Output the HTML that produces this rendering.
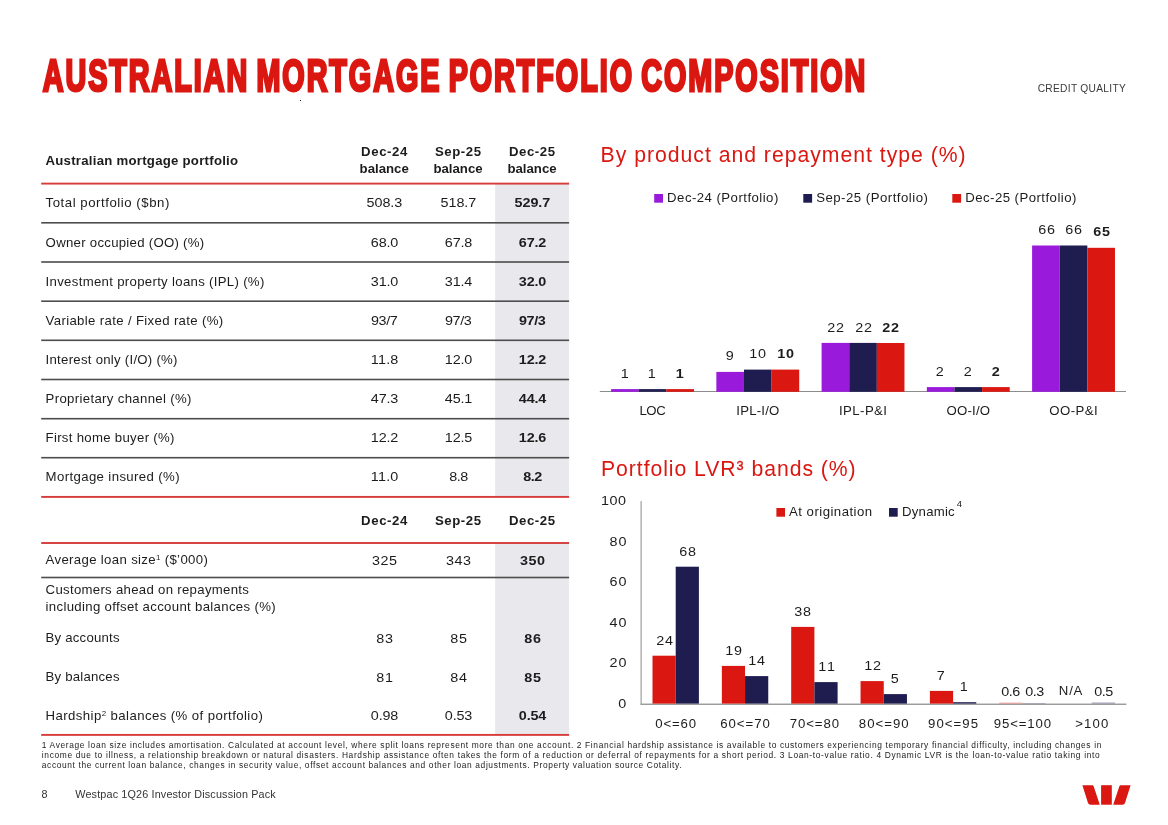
<!DOCTYPE html>
<html lang="en"><head><meta charset="utf-8"><title>Australian mortgage portfolio composition</title>
<style>
html,body{margin:0;padding:0;background:#fff;}
body{width:1168px;height:825px;position:relative;overflow:hidden;font-family:"Liberation Sans",sans-serif;color:#1c1c1c;}
.abs{position:absolute;}
.t{position:absolute;white-space:nowrap;}
.t sup{font-size:60%;line-height:0;vertical-align:baseline;position:relative;top:-0.51em;}
svg text{font-family:"Liberation Sans",sans-serif;}
</style></head><body>

<svg class="abs" style="left:0;top:0" width="1168" height="825" viewBox="0 0 1168 825">
<rect x="495.2" y="183.6" width="73.9" height="313.3" fill="#E8E8ED"/>
<rect x="495.2" y="543.0" width="73.9" height="192" fill="#E8E8ED"/>
<rect x="41.2" y="182.65" width="527.9" height="1.9" fill="#D63C39"/>
<rect x="41.2" y="222.00" width="527.9" height="1.6" fill="#4d4d4d"/>
<rect x="41.2" y="261.20" width="527.9" height="1.6" fill="#4d4d4d"/>
<rect x="41.2" y="300.40" width="527.9" height="1.6" fill="#4d4d4d"/>
<rect x="41.2" y="339.50" width="527.9" height="1.6" fill="#4d4d4d"/>
<rect x="41.2" y="378.70" width="527.9" height="1.6" fill="#4d4d4d"/>
<rect x="41.2" y="417.90" width="527.9" height="1.6" fill="#4d4d4d"/>
<rect x="41.2" y="456.90" width="527.9" height="1.6" fill="#4d4d4d"/>
<rect x="41.2" y="495.95" width="527.9" height="1.9" fill="#D63C39"/>
<rect x="41.2" y="542.05" width="527.9" height="1.9" fill="#D63C39"/>
<rect x="41.2" y="576.70" width="527.9" height="1.6" fill="#4d4d4d"/>
<rect x="41.2" y="733.95" width="527.9" height="1.9" fill="#D63C39"/>
<rect x="654.20" y="194.00" width="8.80" height="8.70" fill="#991ADB"/>
<rect x="803.30" y="194.00" width="8.80" height="8.70" fill="#1F1C4F"/>
<rect x="952.30" y="194.00" width="8.80" height="8.70" fill="#DA1710"/>
<rect x="599.80" y="391.00" width="526.20" height="1.00" fill="#8c8c8c"/>
<rect x="611.10" y="389.10" width="27.62" height="2.70" fill="#991ADB"/>
<rect x="638.72" y="389.10" width="27.62" height="2.70" fill="#1F1C4F"/>
<rect x="666.34" y="389.10" width="27.62" height="2.70" fill="#DA1710"/>
<rect x="716.35" y="371.90" width="27.62" height="19.90" fill="#991ADB"/>
<rect x="743.97" y="369.60" width="27.62" height="22.20" fill="#1F1C4F"/>
<rect x="771.59" y="369.60" width="27.62" height="22.20" fill="#DA1710"/>
<rect x="821.60" y="342.90" width="27.62" height="48.90" fill="#991ADB"/>
<rect x="849.22" y="342.90" width="27.62" height="48.90" fill="#1F1C4F"/>
<rect x="876.84" y="343.00" width="27.62" height="48.80" fill="#DA1710"/>
<rect x="926.85" y="387.10" width="27.62" height="4.70" fill="#991ADB"/>
<rect x="954.47" y="387.10" width="27.62" height="4.70" fill="#1F1C4F"/>
<rect x="982.09" y="387.10" width="27.62" height="4.70" fill="#DA1710"/>
<rect x="1032.10" y="245.50" width="27.62" height="146.30" fill="#991ADB"/>
<rect x="1059.72" y="245.50" width="27.62" height="146.30" fill="#1F1C4F"/>
<rect x="1087.34" y="247.80" width="27.62" height="144.00" fill="#DA1710"/>
<rect x="640.60" y="501.00" width="1.00" height="203.60" fill="#8c8c8c"/>
<rect x="640.60" y="703.60" width="485.80" height="1.25" fill="#8c8c8c"/>
<rect x="776.40" y="508.00" width="8.60" height="8.70" fill="#DA1710"/>
<rect x="889.00" y="508.00" width="8.70" height="8.70" fill="#1F1C4F"/>
<rect x="652.50" y="655.70" width="23.20" height="47.90" fill="#DA1710"/>
<rect x="675.70" y="566.70" width="23.20" height="136.90" fill="#1F1C4F"/>
<rect x="721.85" y="665.90" width="23.20" height="37.70" fill="#DA1710"/>
<rect x="745.05" y="676.10" width="23.20" height="27.50" fill="#1F1C4F"/>
<rect x="791.20" y="626.90" width="23.20" height="76.70" fill="#DA1710"/>
<rect x="814.40" y="682.10" width="23.20" height="21.50" fill="#1F1C4F"/>
<rect x="860.55" y="681.10" width="23.20" height="22.50" fill="#DA1710"/>
<rect x="883.75" y="694.10" width="23.20" height="9.50" fill="#1F1C4F"/>
<rect x="929.90" y="690.90" width="23.20" height="12.70" fill="#DA1710"/>
<rect x="953.10" y="702.20" width="23.20" height="1.40" fill="#1F1C4F"/>
<rect x="999.25" y="702.70" width="23.20" height="0.90" fill="#E58A86"/>
<rect x="1022.45" y="703.00" width="23.20" height="0.60" fill="#8f8da6"/>
<rect x="1091.80" y="702.60" width="23.20" height="1.00" fill="#8f8da6"/>
<rect x="300" y="100" width="1" height="1" fill="#111"/>
<text transform="translate(42.7,91.3) scale(0.6603,1)" font-size="43.5" font-weight="bold" letter-spacing="3" word-spacing="-4" style="fill:#DA1710;stroke:#DA1710;stroke-width:3;stroke-linejoin:miter;stroke-miterlimit:3">AUSTRALIAN MORTGAGE PORTFOLIO COMPOSITION</text>
<path d="M1082.4 785.2 L1092.3 785.2 Q1093.3 785.2 1093.7 786.4 L1099.8 804.7 L1090.6 804.7 Q1088.6 804.7 1088 803 Z" fill="#DA1710"/>
<rect x="1101.1" y="785.2" width="10.7" height="19.5" fill="#DA1710"/>
<path d="M1130.6 785.2 L1120.7 785.2 Q1119.7 785.2 1119.3 786.4 L1113.2 804.7 L1122.4 804.7 Q1124.4 804.7 1125 803 Z" fill="#DA1710"/>
</svg>
<div class="t" style="left:1037.70px;top:80px;line-height:17px;height:17px;font-size:10.2px;letter-spacing:0.303px;color:#3a3a3a;">CREDIT QUALITY</div>
<div class="t" style="left:45.50px;top:150px;line-height:21px;height:21px;font-size:13.2px;letter-spacing:0.258px;font-weight:bold;">Australian mortgage portfolio</div>
<div class="t" style="left:361.10px;top:141px;line-height:21px;height:21px;font-size:13.2px;letter-spacing:0.587px;font-weight:bold;">Dec-24</div>
<div class="t" style="left:359.60px;top:158px;line-height:21px;height:21px;font-size:13.2px;letter-spacing:0.013px;font-weight:bold;">balance</div>
<div class="t" style="left:434.90px;top:141px;line-height:21px;height:21px;font-size:13.2px;letter-spacing:0.590px;font-weight:bold;">Sep-25</div>
<div class="t" style="left:433.40px;top:158px;line-height:21px;height:21px;font-size:13.2px;letter-spacing:0.013px;font-weight:bold;">balance</div>
<div class="t" style="left:508.90px;top:141px;line-height:21px;height:21px;font-size:13.2px;letter-spacing:0.587px;font-weight:bold;">Dec-25</div>
<div class="t" style="left:507.40px;top:158px;line-height:21px;height:21px;font-size:13.2px;letter-spacing:0.013px;font-weight:bold;">balance</div>
<div class="t" style="left:45.60px;top:192px;line-height:21px;height:21px;font-size:13.2px;letter-spacing:0.540px;">Total portfolio ($bn)</div>
<div class="t" style="left:368.18px;top:192px;line-height:21px;height:21px;font-size:13.2px;letter-spacing:-0.043px;width:32.84px;transform:scaleX(1.09);transform-origin:50% 50%;">508.3</div>
<div class="t" style="left:441.98px;top:192px;line-height:21px;height:21px;font-size:13.2px;letter-spacing:-0.043px;width:32.84px;transform:scaleX(1.09);transform-origin:50% 50%;">518.7</div>
<div class="t" style="left:515.98px;top:192px;line-height:21px;height:21px;font-size:13.2px;letter-spacing:-0.043px;font-weight:bold;width:32.84px;transform:scaleX(1.09);transform-origin:50% 50%;">529.7</div>
<div class="t" style="left:45.60px;top:232px;line-height:21px;height:21px;font-size:13.2px;letter-spacing:0.280px;">Owner occupied (OO) (%)</div>
<div class="t" style="left:372.01px;top:232px;line-height:21px;height:21px;font-size:13.2px;letter-spacing:-0.163px;width:25.18px;transform:scaleX(1.09);transform-origin:50% 50%;">68.0</div>
<div class="t" style="left:445.81px;top:232px;line-height:21px;height:21px;font-size:13.2px;letter-spacing:-0.163px;width:25.18px;transform:scaleX(1.09);transform-origin:50% 50%;">67.8</div>
<div class="t" style="left:519.81px;top:232px;line-height:21px;height:21px;font-size:13.2px;letter-spacing:-0.163px;font-weight:bold;width:25.18px;transform:scaleX(1.09);transform-origin:50% 50%;">67.2</div>
<div class="t" style="left:45.60px;top:271px;line-height:21px;height:21px;font-size:13.2px;letter-spacing:0.310px;">Investment property loans (IPL) (%)</div>
<div class="t" style="left:372.01px;top:271px;line-height:21px;height:21px;font-size:13.2px;letter-spacing:-0.163px;width:25.18px;transform:scaleX(1.09);transform-origin:50% 50%;">31.0</div>
<div class="t" style="left:445.81px;top:271px;line-height:21px;height:21px;font-size:13.2px;letter-spacing:-0.163px;width:25.18px;transform:scaleX(1.09);transform-origin:50% 50%;">31.4</div>
<div class="t" style="left:519.81px;top:271px;line-height:21px;height:21px;font-size:13.2px;letter-spacing:-0.163px;font-weight:bold;width:25.18px;transform:scaleX(1.09);transform-origin:50% 50%;">32.0</div>
<div class="t" style="left:45.60px;top:310px;line-height:21px;height:21px;font-size:13.2px;letter-spacing:0.345px;">Variable rate / Fixed rate (%)</div>
<div class="t" style="left:372.28px;top:310px;line-height:21px;height:21px;font-size:13.2px;letter-spacing:-0.346px;width:24.63px;transform:scaleX(1.09);transform-origin:50% 50%;">93/7</div>
<div class="t" style="left:446.08px;top:310px;line-height:21px;height:21px;font-size:13.2px;letter-spacing:-0.346px;width:24.63px;transform:scaleX(1.09);transform-origin:50% 50%;">97/3</div>
<div class="t" style="left:520.08px;top:310px;line-height:21px;height:21px;font-size:13.2px;letter-spacing:-0.346px;font-weight:bold;width:24.63px;transform:scaleX(1.09);transform-origin:50% 50%;">97/3</div>
<div class="t" style="left:45.60px;top:349px;line-height:21px;height:21px;font-size:13.2px;letter-spacing:0.266px;">Interest only (I/O) (%)</div>
<div class="t" style="left:372.01px;top:349px;line-height:21px;height:21px;font-size:13.2px;letter-spacing:0.165px;width:25.18px;transform:scaleX(1.09);transform-origin:50% 50%;">11.8</div>
<div class="t" style="left:445.81px;top:349px;line-height:21px;height:21px;font-size:13.2px;letter-spacing:-0.163px;width:25.18px;transform:scaleX(1.09);transform-origin:50% 50%;">12.0</div>
<div class="t" style="left:519.81px;top:349px;line-height:21px;height:21px;font-size:13.2px;letter-spacing:-0.163px;font-weight:bold;width:25.18px;transform:scaleX(1.09);transform-origin:50% 50%;">12.2</div>
<div class="t" style="left:45.60px;top:388px;line-height:21px;height:21px;font-size:13.2px;letter-spacing:0.330px;">Proprietary channel (%)</div>
<div class="t" style="left:372.01px;top:388px;line-height:21px;height:21px;font-size:13.2px;letter-spacing:-0.163px;width:25.18px;transform:scaleX(1.09);transform-origin:50% 50%;">47.3</div>
<div class="t" style="left:445.81px;top:388px;line-height:21px;height:21px;font-size:13.2px;letter-spacing:-0.163px;width:25.18px;transform:scaleX(1.09);transform-origin:50% 50%;">45.1</div>
<div class="t" style="left:519.81px;top:388px;line-height:21px;height:21px;font-size:13.2px;letter-spacing:-0.163px;font-weight:bold;width:25.18px;transform:scaleX(1.09);transform-origin:50% 50%;">44.4</div>
<div class="t" style="left:45.60px;top:427px;line-height:21px;height:21px;font-size:13.2px;letter-spacing:0.299px;">First home buyer (%)</div>
<div class="t" style="left:372.01px;top:427px;line-height:21px;height:21px;font-size:13.2px;letter-spacing:-0.163px;width:25.18px;transform:scaleX(1.09);transform-origin:50% 50%;">12.2</div>
<div class="t" style="left:445.81px;top:427px;line-height:21px;height:21px;font-size:13.2px;letter-spacing:-0.163px;width:25.18px;transform:scaleX(1.09);transform-origin:50% 50%;">12.5</div>
<div class="t" style="left:519.81px;top:427px;line-height:21px;height:21px;font-size:13.2px;letter-spacing:-0.163px;font-weight:bold;width:25.18px;transform:scaleX(1.09);transform-origin:50% 50%;">12.6</div>
<div class="t" style="left:45.60px;top:466px;line-height:21px;height:21px;font-size:13.2px;letter-spacing:0.378px;">Mortgage insured (%)</div>
<div class="t" style="left:372.01px;top:466px;line-height:21px;height:21px;font-size:13.2px;letter-spacing:0.165px;width:25.18px;transform:scaleX(1.09);transform-origin:50% 50%;">11.0</div>
<div class="t" style="left:449.64px;top:466px;line-height:21px;height:21px;font-size:13.2px;letter-spacing:-0.410px;width:17.52px;transform:scaleX(1.09);transform-origin:50% 50%;">8.8</div>
<div class="t" style="left:523.64px;top:466px;line-height:21px;height:21px;font-size:13.2px;letter-spacing:-0.410px;font-weight:bold;width:17.52px;transform:scaleX(1.09);transform-origin:50% 50%;">8.2</div>
<div class="t" style="left:361.10px;top:510px;line-height:21px;height:21px;font-size:13.2px;letter-spacing:0.587px;font-weight:bold;">Dec-24</div>
<div class="t" style="left:434.90px;top:510px;line-height:21px;height:21px;font-size:13.2px;letter-spacing:0.590px;font-weight:bold;">Sep-25</div>
<div class="t" style="left:508.90px;top:510px;line-height:21px;height:21px;font-size:13.2px;letter-spacing:0.587px;font-weight:bold;">Dec-25</div>
<div class="t" style="left:45.60px;top:549px;line-height:21px;height:21px;font-size:13.2px;letter-spacing:0.339px;">Average loan size<sup>1</sup> ($’000)</div>
<div class="t" style="left:373.06px;top:550px;line-height:21px;height:21px;font-size:13.2px;letter-spacing:0.529px;width:23.07px;transform:scaleX(1.09);transform-origin:50% 50%;">325</div>
<div class="t" style="left:446.86px;top:550px;line-height:21px;height:21px;font-size:13.2px;letter-spacing:0.529px;width:23.07px;transform:scaleX(1.09);transform-origin:50% 50%;">343</div>
<div class="t" style="left:520.86px;top:550px;line-height:21px;height:21px;font-size:13.2px;letter-spacing:0.529px;font-weight:bold;width:23.07px;transform:scaleX(1.09);transform-origin:50% 50%;">350</div>
<div class="t" style="left:45.60px;top:627px;line-height:21px;height:21px;font-size:13.2px;letter-spacing:0.206px;">By accounts</div>
<div class="t" style="left:376.89px;top:628px;line-height:21px;height:21px;font-size:13.2px;letter-spacing:0.741px;width:15.41px;transform:scaleX(1.09);transform-origin:50% 50%;">83</div>
<div class="t" style="left:450.69px;top:628px;line-height:21px;height:21px;font-size:13.2px;letter-spacing:0.741px;width:15.41px;transform:scaleX(1.09);transform-origin:50% 50%;">85</div>
<div class="t" style="left:524.69px;top:628px;line-height:21px;height:21px;font-size:13.2px;letter-spacing:0.741px;font-weight:bold;width:15.41px;transform:scaleX(1.09);transform-origin:50% 50%;">86</div>
<div class="t" style="left:45.60px;top:666px;line-height:21px;height:21px;font-size:13.2px;letter-spacing:0.206px;">By balances</div>
<div class="t" style="left:376.89px;top:667px;line-height:21px;height:21px;font-size:13.2px;letter-spacing:0.741px;width:15.41px;transform:scaleX(1.09);transform-origin:50% 50%;">81</div>
<div class="t" style="left:450.69px;top:667px;line-height:21px;height:21px;font-size:13.2px;letter-spacing:0.741px;width:15.41px;transform:scaleX(1.09);transform-origin:50% 50%;">84</div>
<div class="t" style="left:524.69px;top:667px;line-height:21px;height:21px;font-size:13.2px;letter-spacing:0.741px;font-weight:bold;width:15.41px;transform:scaleX(1.09);transform-origin:50% 50%;">85</div>
<div class="t" style="left:45.60px;top:705px;line-height:21px;height:21px;font-size:13.2px;letter-spacing:0.416px;">Hardship<sup>2</sup> balances (% of portfolio)</div>
<div class="t" style="left:372.01px;top:705px;line-height:21px;height:21px;font-size:13.2px;letter-spacing:-0.163px;width:25.18px;transform:scaleX(1.09);transform-origin:50% 50%;">0.98</div>
<div class="t" style="left:445.81px;top:705px;line-height:21px;height:21px;font-size:13.2px;letter-spacing:-0.163px;width:25.18px;transform:scaleX(1.09);transform-origin:50% 50%;">0.53</div>
<div class="t" style="left:519.81px;top:705px;line-height:21px;height:21px;font-size:13.2px;letter-spacing:-0.163px;font-weight:bold;width:25.18px;transform:scaleX(1.09);transform-origin:50% 50%;">0.54</div>
<div class="t" style="left:45.60px;top:579px;line-height:21px;height:21px;font-size:13.2px;letter-spacing:0.296px;">Customers ahead on repayments</div>
<div class="t" style="left:45.60px;top:596px;line-height:21px;height:21px;font-size:13.2px;letter-spacing:0.327px;">including offset account balances (%)</div>
<div class="t" style="left:41.80px;top:737px;line-height:16px;height:16px;font-size:8.4px;letter-spacing:0.642px;color:#222;">1 Average loan size includes amortisation. Calculated at account level, where split loans represent more than one account. 2 Financial hardship assistance is available to customers experiencing temporary financial difficulty, including changes in</div>
<div class="t" style="left:41.80px;top:747px;line-height:16px;height:16px;font-size:8.4px;letter-spacing:0.656px;color:#222;">income due to illness, a relationship breakdown or natural disasters. Hardship assistance often takes the form of a reduction or deferral of repayments for a short period. 3 Loan-to-value ratio. 4 Dynamic LVR is the loan-to-value ratio taking into</div>
<div class="t" style="left:41.80px;top:757px;line-height:16px;height:16px;font-size:8.4px;letter-spacing:0.626px;color:#222;">account the current loan balance, changes in security value, offset account balances and other loan adjustments. Property valuation source Cotality.</div>
<div class="t" style="left:41.60px;top:785px;line-height:18px;height:18px;font-size:10.8px;color:#333;">8</div>
<div class="t" style="left:75.30px;top:785px;line-height:18px;height:18px;font-size:10.8px;letter-spacing:0.154px;color:#333;">Westpac 1Q26 Investor Discussion Pack</div>
<div class="t" style="left:600.60px;top:140px;line-height:29px;height:29px;font-size:21.2px;letter-spacing:0.991px;color:#DA1710;">By product and repayment type (%)</div>
<div class="t" style="left:601.00px;top:454px;line-height:29px;height:29px;font-size:21.2px;letter-spacing:0.948px;color:#DA1710;">Portfolio LVR<sup style="-webkit-text-stroke:0.4px #DA1710">3</sup> bands (%)</div>
<div class="t" style="left:667.10px;top:187px;line-height:21px;height:21px;font-size:13.2px;letter-spacing:0.462px;">Dec-24 (Portfolio)</div>
<div class="t" style="left:816.20px;top:187px;line-height:21px;height:21px;font-size:13.2px;letter-spacing:0.491px;">Sep-25 (Portfolio)</div>
<div class="t" style="left:965.20px;top:187px;line-height:21px;height:21px;font-size:13.2px;letter-spacing:0.462px;">Dec-25 (Portfolio)</div>
<div class="t" style="left:620.64px;top:363px;line-height:21px;height:21px;font-size:13.2px;width:7.34px;transform:scaleX(1.09);transform-origin:50% 50%;">1</div>
<div class="t" style="left:648.26px;top:363px;line-height:21px;height:21px;font-size:13.2px;width:7.34px;transform:scaleX(1.09);transform-origin:50% 50%;">1</div>
<div class="t" style="left:675.88px;top:363px;line-height:21px;height:21px;font-size:13.2px;font-weight:bold;width:7.34px;transform:scaleX(1.09);transform-origin:50% 50%;">1</div>
<div class="t" style="left:639.38px;top:400px;line-height:21px;height:21px;font-size:13.2px;letter-spacing:-0.412px;">LOC</div>
<div class="t" style="left:725.89px;top:345px;line-height:21px;height:21px;font-size:13.2px;width:7.34px;transform:scaleX(1.09);transform-origin:50% 50%;">9</div>
<div class="t" style="left:750.47px;top:343px;line-height:21px;height:21px;font-size:13.2px;letter-spacing:0.741px;width:15.41px;transform:scaleX(1.09);transform-origin:50% 50%;">10</div>
<div class="t" style="left:778.09px;top:343px;line-height:21px;height:21px;font-size:13.2px;letter-spacing:0.741px;font-weight:bold;width:15.41px;transform:scaleX(1.09);transform-origin:50% 50%;">10</div>
<div class="t" style="left:736.28px;top:400px;line-height:21px;height:21px;font-size:13.2px;letter-spacing:0.203px;">IPL-I/O</div>
<div class="t" style="left:828.10px;top:317px;line-height:21px;height:21px;font-size:13.2px;letter-spacing:0.741px;width:15.41px;transform:scaleX(1.09);transform-origin:50% 50%;">22</div>
<div class="t" style="left:855.72px;top:317px;line-height:21px;height:21px;font-size:13.2px;letter-spacing:0.741px;width:15.41px;transform:scaleX(1.09);transform-origin:50% 50%;">22</div>
<div class="t" style="left:883.34px;top:317px;line-height:21px;height:21px;font-size:13.2px;letter-spacing:0.741px;font-weight:bold;width:15.41px;transform:scaleX(1.09);transform-origin:50% 50%;">22</div>
<div class="t" style="left:839.03px;top:400px;line-height:21px;height:21px;font-size:13.2px;letter-spacing:0.424px;">IPL-P&amp;I</div>
<div class="t" style="left:936.39px;top:361px;line-height:21px;height:21px;font-size:13.2px;width:7.34px;transform:scaleX(1.09);transform-origin:50% 50%;">2</div>
<div class="t" style="left:964.01px;top:361px;line-height:21px;height:21px;font-size:13.2px;width:7.34px;transform:scaleX(1.09);transform-origin:50% 50%;">2</div>
<div class="t" style="left:991.63px;top:361px;line-height:21px;height:21px;font-size:13.2px;font-weight:bold;width:7.34px;transform:scaleX(1.09);transform-origin:50% 50%;">2</div>
<div class="t" style="left:946.53px;top:400px;line-height:21px;height:21px;font-size:13.2px;letter-spacing:0.200px;">OO-I/O</div>
<div class="t" style="left:1038.60px;top:219px;line-height:21px;height:21px;font-size:13.2px;letter-spacing:0.741px;width:15.41px;transform:scaleX(1.09);transform-origin:50% 50%;">66</div>
<div class="t" style="left:1066.22px;top:219px;line-height:21px;height:21px;font-size:13.2px;letter-spacing:0.741px;width:15.41px;transform:scaleX(1.09);transform-origin:50% 50%;">66</div>
<div class="t" style="left:1093.84px;top:221px;line-height:21px;height:21px;font-size:13.2px;letter-spacing:0.741px;font-weight:bold;width:15.41px;transform:scaleX(1.09);transform-origin:50% 50%;">65</div>
<div class="t" style="left:1049.28px;top:400px;line-height:21px;height:21px;font-size:13.2px;letter-spacing:0.466px;">OO-P&amp;I</div>
<div class="t" style="left:618.66px;top:693px;line-height:21px;height:21px;font-size:13.2px;width:7.34px;transform:scaleX(1.09);transform-origin:100% 50%;">0</div>
<div class="t" style="left:610.59px;top:652px;line-height:21px;height:21px;font-size:13.2px;letter-spacing:0.741px;width:15.41px;transform:scaleX(1.09);transform-origin:100% 50%;">20</div>
<div class="t" style="left:610.59px;top:612px;line-height:21px;height:21px;font-size:13.2px;letter-spacing:0.741px;width:15.41px;transform:scaleX(1.09);transform-origin:100% 50%;">40</div>
<div class="t" style="left:610.59px;top:571px;line-height:21px;height:21px;font-size:13.2px;letter-spacing:0.741px;width:15.41px;transform:scaleX(1.09);transform-origin:100% 50%;">60</div>
<div class="t" style="left:610.59px;top:531px;line-height:21px;height:21px;font-size:13.2px;letter-spacing:0.741px;width:15.41px;transform:scaleX(1.09);transform-origin:100% 50%;">80</div>
<div class="t" style="left:602.93px;top:490px;line-height:21px;height:21px;font-size:13.2px;letter-spacing:0.529px;width:23.07px;transform:scaleX(1.09);transform-origin:100% 50%;">100</div>
<div class="t" style="left:789.10px;top:501px;line-height:21px;height:21px;font-size:13.2px;letter-spacing:0.463px;">At origination</div>
<div class="t" style="left:902.00px;top:501px;line-height:21px;height:21px;font-size:13.2px;letter-spacing:0.234px;">Dynamic</div>
<div class="t" style="left:956.80px;top:495px;line-height:17px;height:17px;font-size:9.5px;">4</div>
<div class="t" style="left:656.79px;top:630px;line-height:21px;height:21px;font-size:13.2px;letter-spacing:0.741px;width:15.41px;transform:scaleX(1.09);transform-origin:50% 50%;">24</div>
<div class="t" style="left:679.99px;top:541px;line-height:21px;height:21px;font-size:13.2px;letter-spacing:0.741px;width:15.41px;transform:scaleX(1.09);transform-origin:50% 50%;">68</div>
<div class="t" style="left:655.30px;top:713px;line-height:21px;height:21px;font-size:13.2px;letter-spacing:0.848px;">0&lt;=60</div>
<div class="t" style="left:726.14px;top:640px;line-height:21px;height:21px;font-size:13.2px;letter-spacing:0.741px;width:15.41px;transform:scaleX(1.09);transform-origin:50% 50%;">19</div>
<div class="t" style="left:749.34px;top:650px;line-height:21px;height:21px;font-size:13.2px;letter-spacing:0.741px;width:15.41px;transform:scaleX(1.09);transform-origin:50% 50%;">14</div>
<div class="t" style="left:720.30px;top:713px;line-height:21px;height:21px;font-size:13.2px;letter-spacing:0.950px;">60&lt;=70</div>
<div class="t" style="left:795.49px;top:601px;line-height:21px;height:21px;font-size:13.2px;letter-spacing:0.741px;width:15.41px;transform:scaleX(1.09);transform-origin:50% 50%;">38</div>
<div class="t" style="left:818.69px;top:656px;line-height:21px;height:21px;font-size:13.2px;letter-spacing:1.710px;width:15.41px;transform:scaleX(1.09);transform-origin:50% 50%;">11</div>
<div class="t" style="left:789.65px;top:713px;line-height:21px;height:21px;font-size:13.2px;letter-spacing:0.950px;">70&lt;=80</div>
<div class="t" style="left:864.84px;top:655px;line-height:21px;height:21px;font-size:13.2px;letter-spacing:0.741px;width:15.41px;transform:scaleX(1.09);transform-origin:50% 50%;">12</div>
<div class="t" style="left:891.08px;top:668px;line-height:21px;height:21px;font-size:13.2px;width:7.34px;transform:scaleX(1.09);transform-origin:50% 50%;">5</div>
<div class="t" style="left:858.80px;top:713px;line-height:21px;height:21px;font-size:13.2px;letter-spacing:1.030px;">80&lt;=90</div>
<div class="t" style="left:937.23px;top:665px;line-height:21px;height:21px;font-size:13.2px;width:7.34px;transform:scaleX(1.09);transform-origin:50% 50%;">7</div>
<div class="t" style="left:960.43px;top:676px;line-height:21px;height:21px;font-size:13.2px;width:7.34px;transform:scaleX(1.09);transform-origin:50% 50%;">1</div>
<div class="t" style="left:928.10px;top:713px;line-height:21px;height:21px;font-size:13.2px;letter-spacing:1.050px;">90&lt;=95</div>
<div class="t" style="left:1001.94px;top:681px;line-height:21px;height:21px;font-size:13.2px;letter-spacing:-0.410px;width:17.52px;transform:scaleX(1.09);transform-origin:50% 50%;">0.6</div>
<div class="t" style="left:1025.84px;top:681px;line-height:21px;height:21px;font-size:13.2px;letter-spacing:-0.410px;width:17.52px;transform:scaleX(1.09);transform-origin:50% 50%;">0.3</div>
<div class="t" style="left:993.75px;top:713px;line-height:21px;height:21px;font-size:13.2px;letter-spacing:0.887px;">95&lt;=100</div>
<div class="t" style="left:1058.85px;top:680px;line-height:21px;height:21px;font-size:13.2px;letter-spacing:0.758px;">N/A</div>
<div class="t" style="left:1095.04px;top:681px;line-height:21px;height:21px;font-size:13.2px;letter-spacing:-0.410px;width:17.52px;transform:scaleX(1.09);transform-origin:50% 50%;">0.5</div>
<div class="t" style="left:1075.25px;top:713px;line-height:21px;height:21px;font-size:13.2px;letter-spacing:1.127px;">&gt;100</div>
</body></html>
